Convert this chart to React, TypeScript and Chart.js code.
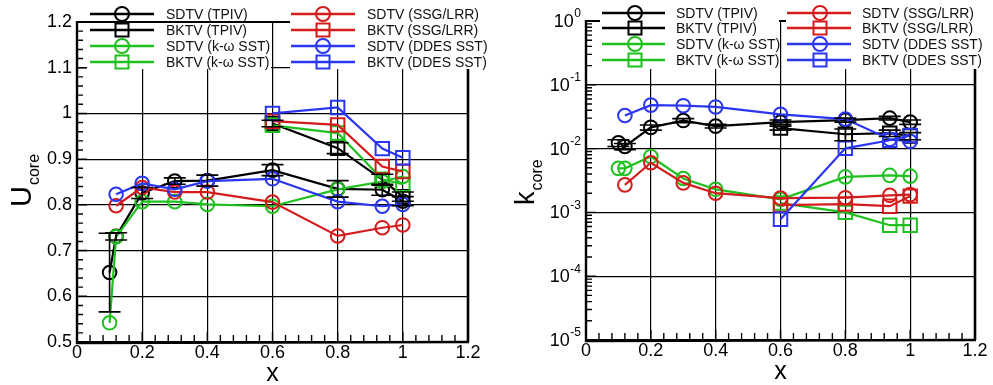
import React, { useEffect, useRef } from "react";
import { Chart, registerables } from "chart.js";

Chart.register(...registerables);

const FONT = '"Liberation Sans", Arial, Helvetica, sans-serif';

const C_BLACK = "#000000";
const C_GREEN = "#1fc01f";
const C_RED = "#d41c1c";
const C_BLUE = "#2a36f0";

const seriesLabels = [
  "SDTV (TPIV)",
  "BKTV (TPIV)",
  "SDTV (k-ω SST)",
  "BKTV (k-ω SST)",
  "SDTV (SSG/LRR)",
  "BKTV (SSG/LRR)",
  "SDTV (DDES SST)",
  "BKTV (DDES SST)",
];
const seriesColors = [C_BLACK, C_BLACK, C_GREEN, C_GREEN, C_RED, C_RED, C_BLUE, C_BLUE];
const seriesShapes = ["circle", "rect", "circle", "rect", "circle", "rect", "circle", "rect"];

// x stations
const xAll = [0.1, 0.12, 0.2, 0.3, 0.4, 0.6, 0.8, 0.937, 1.0];
const xFrom012 = [0.12, 0.2, 0.3, 0.4, 0.6, 0.8, 0.937, 1.0];
const xDown = [0.6, 0.8, 0.937, 1.0];

// axis ticks
const xTickValues = [0, 0.2, 0.4, 0.6, 0.8, 1.0, 1.2];
const xTickLabels = ["0", "0.2", "0.4", "0.6", "0.8", "1", "1.2"];
const uTickValues = [0.5, 0.6, 0.7, 0.8, 0.9, 1.0, 1.1, 1.2];
const uTickLabels = ["0.5", "0.6", "0.7", "0.8", "0.9", "1", "1.1", "1.2"];
const kTickValues = [1e-5, 1e-4, 1e-3, 1e-2, 1e-1, 1];
const kTickExponents = ["-5", "-4", "-3", "-2", "-1", "0"];

// U_core
const uSdtvTpiv = [0.652, 0.731, 0.826, 0.852, 0.853, 0.876, 0.835, 0.833, 0.808];
const uSdtvTpivErr = [0.086, 0.008, 0.012, 0.007, 0.012, 0.012, 0.018, 0.012, 0.01];
const uBktvTpiv = [0.978, 0.924, 0.855, 0.818];
const uBktvTpivErr = [0.007, 0.012, 0.012, 0.01];
const uSdtvKw = [0.542, 0.73, 0.807, 0.807, 0.801, 0.797, 0.834, 0.851, 0.862];
const uBktvKw = [0.974, 0.957, 0.856, 0.845];
const uSdtvSsg = [0.798, 0.838, 0.828, 0.828, 0.806, 0.732, 0.75, 0.756];
const uBktvSsg = [0.983, 0.975, 0.884, 0.873];
const uSdtvDdes = [0.823, 0.847, 0.834, 0.852, 0.857, 0.807, 0.797, 0.801];
const uBktvDdes = [1.0, 1.013, 0.923, 0.903];

// k_core
const kSdtvTpiv = [0.0123, 0.0108, 0.0215, 0.0275, 0.0225, 0.026, 0.028, 0.03, 0.026];
const kSdtvTpivErr = [0.0015, 0.0012, 0.002, 0.002, 0.0015, 0.002, 0.002, 0.002, 0.002];
const kBktvTpiv = [0.021, 0.0168, 0.0175, 0.0158];
const kBktvTpivErr = [0.0015, 0.0035, 0.002, 0.002];
const kSdtvKw = [0.0049, 0.0049, 0.0075, 0.0034, 0.0023, 0.0016, 0.0036, 0.0038, 0.0037];
const kBktvKw = [0.0014, 0.001, 0.00063, 0.00063];
const kSdtvSsg = [0.0027, 0.006, 0.0029, 0.002, 0.00168, 0.0017, 0.00185, 0.0019];
const kBktvSsg = [0.0013, 0.00135, 0.00125, 0.0018];
const kSdtvDdes = [0.033, 0.048, 0.047, 0.045, 0.0345, 0.029, 0.014, 0.013];
const kBktvDdes = [0.00078, 0.0101, 0.0135, 0.016];

const W = 496;
const H = 385;

type Col = { x0: number; x1: number; mx: number; tx: number };
type Spec = {
  left: number;
  area: { l: number; r: number; t: number; b: number };
  log: boolean;
  series: { xs: number[]; ys: number[]; err?: number[] }[];
  rects: number[][];
  legendCols: Col[];
  legendRows: number[];
  yTitle: { main: string; sub: string; x: number; y: number; subShift: number; size: number };
  xTitleY: number;
};

function drawMarker(ctx: CanvasRenderingContext2D, shape: string, x: number, y: number, color: string) {
  ctx.strokeStyle = color;
  ctx.lineWidth = 2;
  ctx.beginPath();
  if (shape === "circle") ctx.arc(x, y, 7, 0, Math.PI * 2);
  else ctx.rect(x - 6.5, y - 6.5, 13, 13);
  ctx.stroke();
}

function decorPlugin(spec: Spec) {
  return {
    id: "decor",
    afterDatasetsDraw(chart: any) {
      const ctx: CanvasRenderingContext2D = chart.ctx;
      const xs = chart.scales.x;
      const ys = chart.scales.y;
      const a = chart.chartArea;
      ctx.save();
      // error bars
      chart.data.datasets.forEach((ds: any) => {
        const err = ds.errors as number[] | undefined;
        if (!err) return;
        ctx.strokeStyle = ds.borderColor;
        ctx.lineWidth = 1.6;
        ds.data.forEach((p: any, j: number) => {
          const px = xs.getPixelForValue(p.x);
          const y0 = ys.getPixelForValue(p.y - err[j]);
          const y1 = ys.getPixelForValue(p.y + err[j]);
          ctx.beginPath();
          ctx.moveTo(px, y0);
          ctx.lineTo(px, y1);
          ctx.moveTo(px - 11, y0);
          ctx.lineTo(px + 11, y0);
          ctx.moveTo(px - 11, y1);
          ctx.lineTo(px + 11, y1);
          ctx.stroke();
        });
      });
      // frame top + right
      ctx.strokeStyle = "#000";
      ctx.lineWidth = 1.8;
      ctx.beginPath();
      ctx.moveTo(a.left, a.top);
      ctx.lineTo(a.right, a.top);
      ctx.stroke();
      ctx.lineWidth = 2.6;
      ctx.beginPath();
      ctx.moveTo(a.right, a.top);
      ctx.lineTo(a.right, a.bottom);
      ctx.stroke();
      // legend cover boxes
      ctx.fillStyle = "#fff";
      spec.rects.forEach((r) => ctx.fillRect(r[0], r[1], r[2], r[3]));
      // left and bottom axes
      ctx.strokeStyle = "#000";
      ctx.lineWidth = 2.4;
      ctx.beginPath();
      ctx.moveTo(a.left, a.top - 1);
      ctx.lineTo(a.left, a.bottom + 1);
      ctx.lineTo(a.right + 1, a.bottom);
      ctx.stroke();
      // ticks
      ctx.lineWidth = 1.4;
      ctx.beginPath();
      const yMajors: number[] = spec.log ? kTickValues : uTickValues;
      yMajors.forEach((v) => {
        const py = ys.getPixelForValue(v);
        ctx.moveTo(a.left, py);
        ctx.lineTo(a.left + 10, py);
      });
      if (spec.log) {
        for (let e = -5; e < 0; e++) {
          for (let m = 2; m <= 9; m++) {
            const py = ys.getPixelForValue(m * Math.pow(10, e));
            ctx.moveTo(a.left, py);
            ctx.lineTo(a.left + 6, py);
          }
        }
      } else {
        for (let k = 0; k <= 35; k++) {
          if (k % 5 === 0) continue;
          const py = ys.getPixelForValue(0.5 + k * 0.02);
          ctx.moveTo(a.left, py);
          ctx.lineTo(a.left + 6, py);
        }
      }
      for (let k = 0; k <= 30; k++) {
        const px = xs.getPixelForValue(k * 0.04);
        const len = k % 5 === 0 ? 10 : 7;
        ctx.moveTo(px, a.bottom);
        ctx.lineTo(px, a.bottom - len);
      }
      ctx.stroke();
      // log tick labels with superscripts
      if (spec.log) {
        ctx.fillStyle = "#000";
        kTickValues.forEach((v, i) => {
          const py = ys.getPixelForValue(v);
          const exp = kTickExponents[i];
          ctx.font = `12px ${FONT}`;
          const we = ctx.measureText(exp).width;
          const right = a.left - 5;
          ctx.textBaseline = "middle";
          ctx.textAlign = "left";
          ctx.fillText(exp, right - we, py - 7);
          ctx.font = `18px ${FONT}`;
          ctx.textAlign = "right";
          ctx.fillText("10", right - we - 0.5, py + 1);
        });
      }
      // legend entries
      ctx.textAlign = "left";
      ctx.textBaseline = "middle";
      seriesLabels.forEach((lab, i) => {
        const col = spec.legendCols[Math.floor(i / 4)];
        const y = spec.legendRows[i % 4];
        ctx.strokeStyle = seriesColors[i];
        ctx.lineWidth = 2.4;
        ctx.beginPath();
        ctx.moveTo(col.x0, y);
        ctx.lineTo(col.x1, y);
        ctx.stroke();
        drawMarker(ctx, seriesShapes[i], col.mx, y, seriesColors[i]);
        ctx.fillStyle = "#111";
        ctx.font = `14px ${FONT}`;
        ctx.fillText(lab, col.tx, y + 1);
      });
      // axis titles
      ctx.fillStyle = "#000";
      ctx.font = `25px ${FONT}`;
      ctx.textAlign = "center";
      ctx.textBaseline = "middle";
      ctx.fillText("x", (a.left + a.right) / 2, spec.xTitleY);
      const t = spec.yTitle;
      ctx.save();
      ctx.translate(t.x, t.y);
      ctx.rotate(-Math.PI / 2);
      ctx.textAlign = "left";
      ctx.textBaseline = "alphabetic";
      ctx.font = `${t.size}px ${FONT}`;
      const wm = ctx.measureText(t.main).width;
      ctx.fillText(t.main, 0, 0);
      ctx.font = `16px ${FONT}`;
      ctx.fillText(t.sub, wm + 1, t.subShift);
      ctx.restore();
      ctx.restore();
    },
  };
}

function buildDatasets(spec: Spec) {
  return spec.series.map((s, i) => ({
    label: seriesLabels[i],
    data: s.xs.map((x, j) => ({ x, y: s.ys[j] })),
    errors: s.err,
    borderColor: seriesColors[i],
    backgroundColor: "rgba(0,0,0,0)",
    borderWidth: 2.2,
    pointStyle: seriesShapes[i],
    pointRadius: seriesShapes[i] === "circle" ? 6.8 : 9.5,
    pointBorderWidth: 2,
    pointBorderColor: seriesColors[i],
    pointBackgroundColor: "rgba(0,0,0,0)",
    tension: 0,
    fill: false,
    order: 8 - i,
  }));
}

function Panel({ spec }: { spec: Spec }) {
  const ref = useRef<HTMLCanvasElement>(null);
  useEffect(() => {
    const a = spec.area;
    const yScale: any = spec.log
      ? {
          type: "logarithmic",
          min: 1e-5,
          max: 1,
          afterBuildTicks: (s: any) => {
            s.ticks = kTickValues.map((v) => ({ value: v, major: true }));
          },
          ticks: { display: false, autoSkip: false },
        }
      : {
          type: "linear",
          min: 0.5,
          max: 1.2,
          afterBuildTicks: (s: any) => {
            s.ticks = uTickValues.map((v) => ({ value: v }));
          },
          ticks: {
            autoSkip: false,
            padding: 5,
            color: "#000",
            font: { family: FONT, size: 18 },
            callback: (v: number) => uTickLabels[uTickValues.findIndex((t) => Math.abs(t - v) < 1e-9)],
          },
        };
    yScale.afterFit = (s: any) => {
      s.width = a.l;
    };
    yScale.grid = { color: "#000", lineWidth: 1.2, drawTicks: false };
    yScale.border = { display: false };
    const chart = new Chart(ref.current as HTMLCanvasElement, {
      type: "line",
      data: { datasets: buildDatasets(spec) as any },
      options: {
        responsive: false,
        animation: false,
        devicePixelRatio: 1,
        events: [],
        layout: { padding: { left: 0, top: a.t, right: W - a.r, bottom: 0 } },
        plugins: { legend: { display: false }, tooltip: { enabled: false } },
        scales: {
          x: {
            type: "linear",
            min: 0,
            max: 1.2,
            afterBuildTicks: (s: any) => {
              s.ticks = xTickValues.map((v) => ({ value: v }));
            },
            afterFit: (s: any) => {
              s.height = H - a.b;
            },
            grid: { color: "#000", lineWidth: 1.2, drawTicks: false },
            border: { display: false },
            ticks: {
              autoSkip: false,
              maxRotation: 0,
              padding: 0,
              color: "#000",
              font: { family: FONT, size: 18 },
              callback: (v: number) => xTickLabels[xTickValues.findIndex((t) => Math.abs(t - v) < 1e-9)],
            },
          },
          y: yScale,
        },
      } as any,
      plugins: [decorPlugin(spec) as any],
    });
    return () => chart.destroy();
  }, []);
  return (
    <canvas
      ref={ref}
      width={W}
      height={H}
      style={{ position: "absolute", left: spec.left, top: 0, width: W, height: H }}
    />
  );
}

const leftSpec: Spec = {
  left: 0,
  area: { l: 77, r: 468, t: 22, b: 342 },
  log: false,
  series: [
    { xs: xAll, ys: uSdtvTpiv, err: uSdtvTpivErr },
    { xs: xDown, ys: uBktvTpiv, err: uBktvTpivErr },
    { xs: xAll, ys: uSdtvKw },
    { xs: xDown, ys: uBktvKw },
    { xs: xFrom012, ys: uSdtvSsg },
    { xs: xDown, ys: uBktvSsg },
    { xs: xFrom012, ys: uSdtvDdes },
    { xs: xDown, ys: uBktvDdes },
  ],
  rects: [
    [86, 23, 185, 46],
    [290, 0, 206, 69],
  ],
  legendCols: [
    { x0: 90, x1: 154, mx: 122, tx: 166 },
    { x0: 291, x1: 355, mx: 323, tx: 367 },
  ],
  legendRows: [14, 30, 46, 62],
  yTitle: { main: "U", sub: "core", x: 31, y: 207, subShift: 8, size: 29 },
  xTitleY: 374,
};

const rightSpec: Spec = {
  left: 497,
  area: { l: 89, r: 478, t: 21, b: 340 },
  log: true,
  series: [
    { xs: xAll, ys: kSdtvTpiv, err: kSdtvTpivErr },
    { xs: xDown, ys: kBktvTpiv, err: kBktvTpivErr },
    { xs: xAll, ys: kSdtvKw },
    { xs: xDown, ys: kBktvKw },
    { xs: xFrom012, ys: kSdtvSsg },
    { xs: xDown, ys: kBktvSsg },
    { xs: xFrom012, ys: kSdtvDdes },
    { xs: xDown, ys: kBktvDdes },
  ],
  rects: [
    [103, 0, 179, 69],
    [289, 0, 207, 69],
  ],
  legendCols: [
    { x0: 105, x1: 168, mx: 138, tx: 179 },
    { x0: 290, x1: 354, mx: 323, tx: 365 },
  ],
  legendRows: [13, 28, 44, 60],
  yTitle: { main: "k", sub: "core", x: 37, y: 205, subShift: 8, size: 27 },
  xTitleY: 372,
};

export default function App() {
  return (
    <div
      style={{
        position: "fixed",
        left: 0,
        top: 0,
        width: 993,
        height: 385,
        background: "#fff",
        overflow: "hidden",
      }}
    >
      <Panel spec={leftSpec} />
      <Panel spec={rightSpec} />
    </div>
  );
}
